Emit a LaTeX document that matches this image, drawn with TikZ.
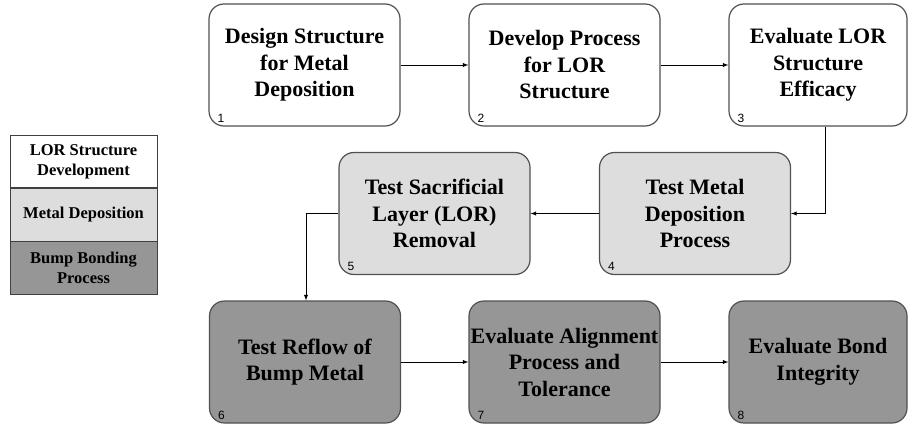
\documentclass[tikz,border=0pt]{standalone}
\usepackage{fontspec}
\setmainfont{Liberation Serif}
\newfontfamily\numfont{Liberation Sans}
\usepackage{tikz}
\usetikzlibrary{arrows,shapes,calc}
\usetikzlibrary{positioning}
\definecolor{lorfill}{HTML}{FFFFFF}
\definecolor{depfill}{HTML}{DDDDDD}
\definecolor{bumpfill}{HTML}{969696}
\definecolor{edgegray}{HTML}{505050}
\tikzstyle{arrow}=[draw,-latex,black,line width=0.9pt]
\tikzstyle{stage} =
  [rectangle, draw=edgegray, line width=1.2pt, rounded corners=15pt,
   minimum width=191pt, minimum height=122pt, align=center, inner sep=0pt,
   font=\fontsize{22}{26.5}\selectfont\bfseries]
\tikzstyle{key} =
  [rectangle, draw=black!75, line width=0.8pt, minimum width=147pt,
   minimum height=52.5pt, align=center, inner sep=0pt,
   font=\fontsize{16.5}{20}\selectfont\bfseries]
\tikzstyle{num} =
  [font=\numfont\fontsize{12}{12}\selectfont, inner sep=0pt,
   anchor=south west, xshift=9pt, yshift=4pt]

\begin{document}
\begin{tikzpicture}[x=1pt, y=1pt, node distance=260pt]
  \useasboundingbox (0,0) rectangle (909,-425);

  % legend
  \node [key, fill=lorfill] (k1) at (83.5,-161.5) {LOR Structure\\Development};
  \node [key, fill=depfill, below=0pt of k1] (k2) {Metal Deposition};
  \node [key, fill=bumpfill, below=0pt of k2] (k3) {Bump Bonding\\Process};

  % first row
  \node [stage, fill=lorfill, label={[num]south west:1}] (s1) at (304.5,-65)
    {Design Structure\\for Metal\\Deposition};
  \node [stage, fill=lorfill, right of=s1, label={[num]south west:2}] (s2)
    {Develop Process\\for LOR\\Structure};
  \node [stage, fill=lorfill, minimum width=178pt, right of=s2,
    node distance=253.5pt, label={[num]south west:3}] (s3)
    {Evaluate LOR\\Structure\\Efficacy};

  % second row
  \node [stage, fill=depfill, label={[num]south west:4}] (s4) at (695,-213.5)
    {Test Metal\\Deposition\\Process};
  \node [stage, fill=depfill, left of=s4, node distance=260.5pt,
    label={[num]south west:5}] (s5)
    {Test Sacrificial\\Layer (LOR)\\Removal};

  % third row
  \node [stage, fill=bumpfill, label={[num]south west:6}] (s6) at (305,-362)
    {Test Reflow of\\Bump Metal};
  \node [stage, fill=bumpfill, right of=s6, node distance=259.5pt,
    label={[num]south west:7}] (s7)
    {Evaluate Alignment\\Process and\\Tolerance};
  \node [stage, fill=bumpfill, minimum width=178pt, right of=s7,
    node distance=253.5pt, label={[num]south west:8}] (s8)
    {Evaluate Bond\\Integrity};

  \draw [arrow] (s1) to (s2);
  \draw [arrow] (s2) to (s3);
  \draw [arrow] ([xshift=7.5pt]s3.south) |- (s4.east);
  \draw [arrow] (s4) to (s5);
  \draw [arrow] (s5.west) -| ([xshift=1pt]s6.north);
  \draw [arrow] (s6) to (s7);
  \draw [arrow] (s7) to (s8);
\end{tikzpicture}
\end{document}
